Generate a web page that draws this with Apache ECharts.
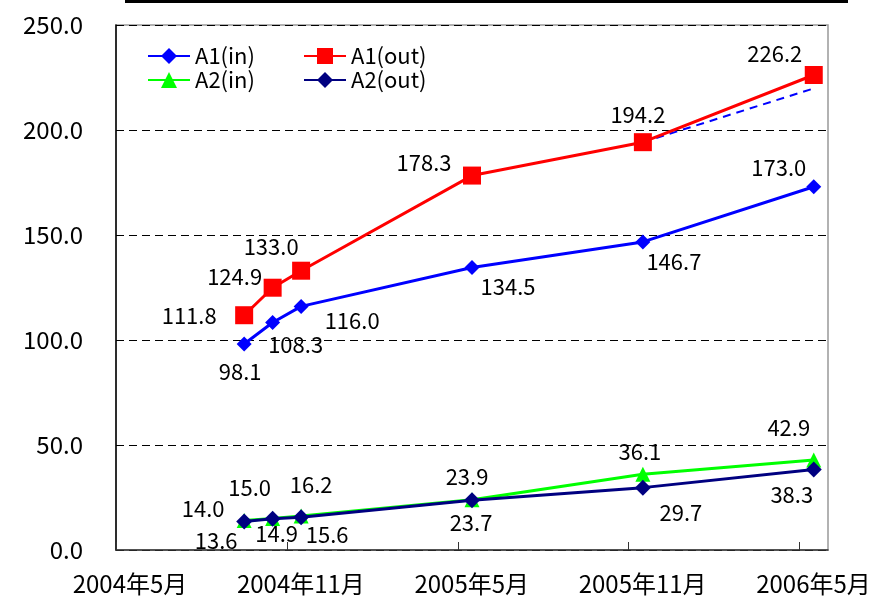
<!DOCTYPE html>
<html>
<head>
<meta charset="utf-8">
<script src="https://cdn.jsdelivr.net/npm/echarts@6/dist/echarts.min.js"></script>
<style>
  html, body { margin: 0; padding: 0; background: #fff; }
  #chart { width: 876px; height: 602px; }
</style>
</head>
<body>
<div id="chart"></div>
<script>
// Months counted from the start of May 2004; survey points fall mid-month.
const tickMonths = [0, 6, 12, 18, 24];
const xTickLabels = ['2004年5月', '2004年11月', '2005年5月', '2005年11月', '2006年5月'];
const pointMonths = [4.5, 5.5, 6.5, 12.5, 18.5, 24.5];

const a1In  = [98.1, 108.3, 116.0, 134.5, 146.7, 173.0];
const a1Out = [111.8, 124.9, 133.0, 178.3, 194.2, 226.2];
const a2In  = [14.0, 15.0, 16.2, 23.9, 36.1, 42.9];
const a2Out = [13.6, 14.9, 15.6, 23.7, 29.7, 38.3];

// Projected continuation drawn as a dashed line over the last half-year.
const projMonths = [18.5, 24.5];
const projValues = [194.2, 219.8];

// Hand-placed value label offsets (px from the marker centre).
const a1InLabelOffsets  = [[-4, 28], [23, 22], [51, 14], [36, 19], [31, 20], [-35, -19]];
const a1OutLabelOffsets = [[-55, 0], [-38, -11], [-30, -24], [-48, -13], [-5, -28], [-39, -21]];
const a2InLabelOffsets  = [[-41, -12], [-23, -31], [10, -31], [-5, -23], [-3, -23], [-25, -32]];
const a2OutLabelOffsets = [[-28, 19], [4, 15], [26, 17], [-1, 22], [38, 25], [-22, 25]];

const FONT = '"Noto Sans CJK JP", "Noto Sans", sans-serif';

function points(values, offsets) {
  return values.map((v, i) => ({
    value: [pointMonths[i], v],
    label: { offset: offsets[i] }
  }));
}

const valueLabel = {
  show: true,
  position: 'inside',
  color: '#000',
  fontFamily: FONT,
  fontSize: 22,
  formatter: p => p.value[1].toFixed(1)
};

const legendBase = {
  orient: 'vertical',
  top: 40,
  itemWidth: 42, itemHeight: 20, itemGap: 2,
  textStyle: { fontFamily: FONT, fontSize: 22, lineHeight: 20, color: '#000' }
};

const chart = echarts.init(document.getElementById('chart'), null, { renderer: 'canvas' });

chart.setOption({
  animation: false,
  backgroundColor: '#fff',
  textStyle: { fontFamily: FONT },
  graphic: [{
    type: 'rect',
    left: 125, top: 0,
    shape: { width: 723, height: 3 },
    style: { fill: '#000' }
  }],
  grid: {
    left: 116, right: 48, top: 25, bottom: 52,
    show: true, borderColor: '#999', borderWidth: 1.5
  },
  legend: [
    Object.assign({}, legendBase, { left: 142, data: ['A1(in)', 'A2(in)'] }),
    Object.assign({}, legendBase, { left: 298, data: ['A1(out)', 'A2(out)'] })
  ],
  xAxis: {
    type: 'value',
    min: 0, max: 25, interval: 6,
    axisLine: { show: true, lineStyle: { color: '#333', width: 1.5 } },
    axisTick: { show: true, inside: true, length: 8, lineStyle: { color: '#333' } },
    splitLine: { show: false },
    axisLabel: {
      color: '#000', fontFamily: FONT, fontSize: 24, margin: 22,
      padding: [0, 0, 0, 28],
      showMaxLabel: false,
      formatter: v => {
        const i = tickMonths.indexOf(v);
        return i >= 0 ? xTickLabels[i] : '';
      }
    }
  },
  yAxis: {
    type: 'value',
    min: 0, max: 250, interval: 50,
    axisLine: { show: true, lineStyle: { color: '#000', width: 1.5 } },
    axisTick: { show: false },
    splitLine: { show: true, lineStyle: { color: '#000', type: [8, 5], width: 1 } },
    axisLabel: {
      color: '#000', fontFamily: FONT, fontSize: 24, margin: 33,
      formatter: v => v.toFixed(1)
    }
  },
  series: [{
    name: 'A1(in)',
    type: 'line',
    symbol: 'diamond', symbolSize: 15,
    itemStyle: { color: '#0000ff' },
    lineStyle: { color: '#0000ff', width: 3 },
    label: valueLabel,
    data: points(a1In, a1InLabelOffsets),
    z: 3
  }, {
    name: 'A1(in) projection',
    type: 'line',
    symbol: 'none',
    lineStyle: { color: '#0000ff', width: 2, type: [8, 6] },
    data: projMonths.map((m, i) => [m, projValues[i]]),
    z: 3
  }, {
    name: 'A1(out)',
    type: 'line',
    symbol: 'rect', symbolSize: 18,
    itemStyle: { color: '#ff0000' },
    lineStyle: { color: '#ff0000', width: 3 },
    label: valueLabel,
    data: points(a1Out, a1OutLabelOffsets),
    z: 4
  }, {
    name: 'A2(in)',
    type: 'line',
    symbol: 'triangle', symbolSize: 15,
    itemStyle: { color: '#00ff00' },
    lineStyle: { color: '#00ff00', width: 3 },
    label: valueLabel,
    data: points(a2In, a2InLabelOffsets),
    z: 3
  }, {
    name: 'A2(out)',
    type: 'line',
    symbol: 'diamond', symbolSize: 16,
    itemStyle: { color: '#000080' },
    lineStyle: { color: '#000080', width: 3 },
    label: valueLabel,
    data: points(a2Out, a2OutLabelOffsets),
    z: 4
  }]
});
</script>
</body>
</html>
